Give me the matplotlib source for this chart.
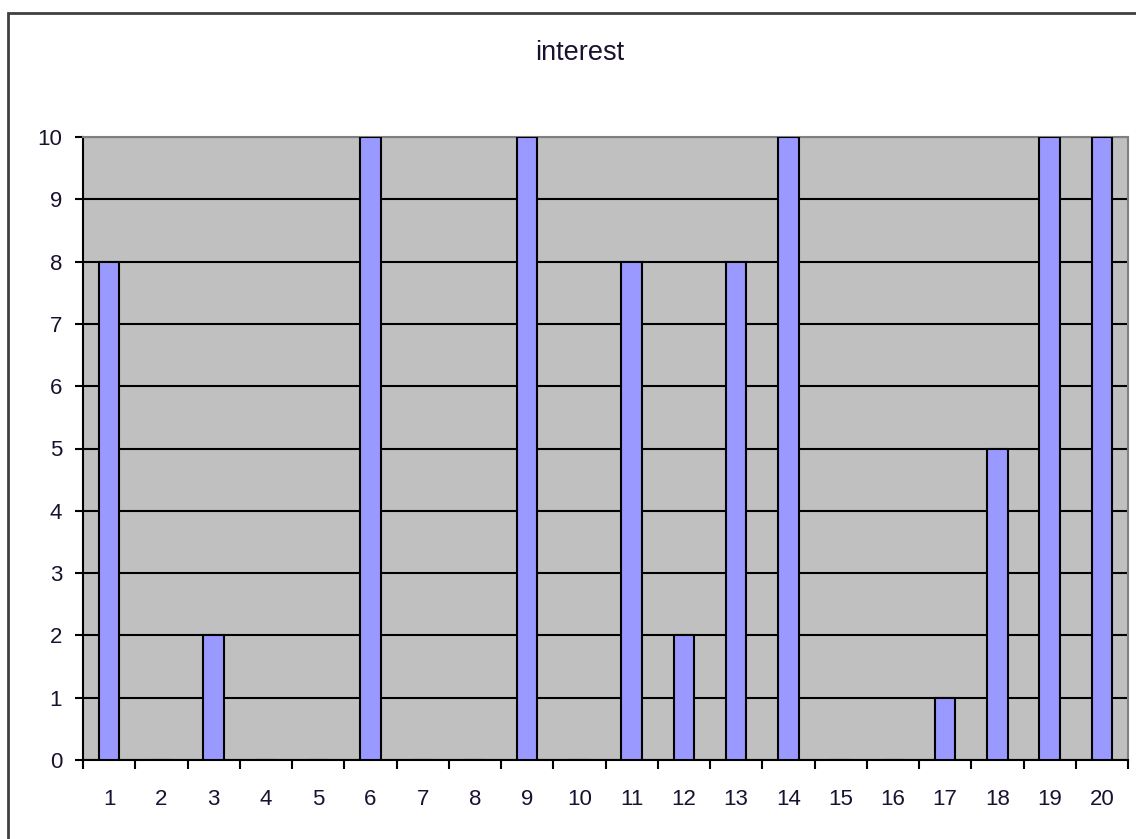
import numpy as np
import matplotlib.pyplot as plt
from matplotlib.patches import Rectangle

# Datos
categorias = [str(i) for i in range(1, 21)]
interest = [8, 0, 2, 0, 0, 10, 0, 0, 10, 0, 8, 2, 8, 10, 0, 0, 1, 5, 10, 10]
valoresY = list(range(0, 11))

plt.rcParams['font.family'] = ['Liberation Sans', 'DejaVu Sans']

fig = plt.figure(figsize=(11.36, 8.39), dpi=100)
# borde exterior del grafico
fig.patches.append(Rectangle((8 / 1136, -0.1), 1.2, (839 - 13) / 839 + 0.1,
                             transform=fig.transFigure, fill=False,
                             edgecolor='#404040', linewidth=2))

ax = fig.add_axes([83 / 1136, 79 / 839, 1045 / 1136, 623 / 839])
ax.set_facecolor('#C0C0C0')

indices = np.arange(1, len(interest) + 1)
ax.set_axisbelow(True)
ax.yaxis.grid(True, color='black', linewidth=1.5)
ax.bar(indices, interest, 0.39, color='#9999FF', edgecolor='black',
       linewidth=1.5, zorder=3)

ax.set_xlim(0.5, 20.5)
ax.set_ylim(0, 10)
ax.set_yticks(valoresY)
ax.set_xticks(indices)
ax.set_xticklabels(categorias)
ax.set_xticks(np.arange(0.5, 21, 1), minor=True)

ax.tick_params(axis='x', which='major', length=0, pad=21, labelsize=16,
               labelcolor='#1a1030')
ax.tick_params(axis='x', which='minor', length=6.5, width=1.5, color='black')
ax.tick_params(axis='y', length=6, width=1.5, pad=9, labelsize=16,
               labelcolor='#1a1030')

for lado in ['left', 'bottom']:
    ax.spines[lado].set_color('black')
    ax.spines[lado].set_linewidth(1.5)
for lado in ['top', 'right']:
    ax.spines[lado].set_color('#808080')
    ax.spines[lado].set_linewidth(1.5)

fig.text(580 / 1136, 1 - 53 / 839, 'interest', ha='center', va='center',
         fontsize=19.5, color='#1a1030')

plt.savefig('out.png', dpi=100)
